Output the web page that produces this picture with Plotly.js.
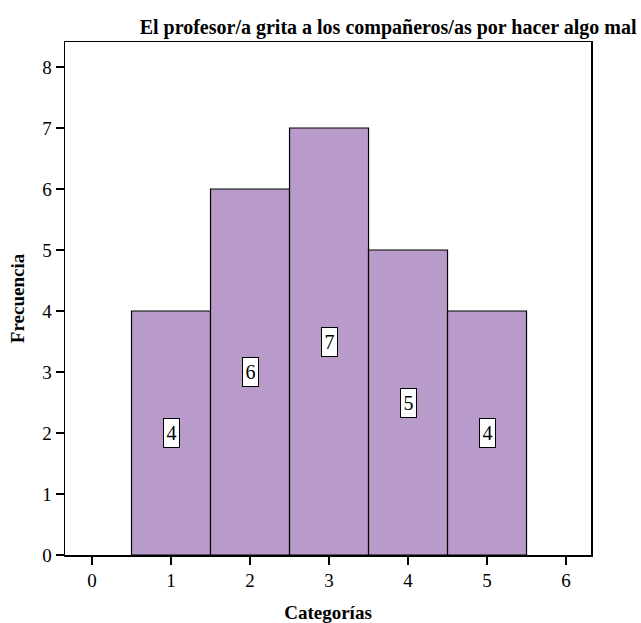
<!DOCTYPE html>
<html>
<head>
<meta charset="utf-8">
<script src="https://cdn.plot.ly/plotly-3.0.1.min.js"></script>
<style>
  html, body { margin: 0; padding: 0; background: #ffffff; }
  #chart { width: 641px; height: 623px; }
</style>
</head>
<body>
<div id="chart"></div>
<script>
// Frequency of each response category
const categories = [1, 2, 3, 4, 5];
const frequencies = [4, 6, 7, 5, 4];
const xTicks = [0, 1, 2, 3, 4, 5, 6];
const yTicks = [0, 1, 2, 3, 4, 5, 6, 7, 8];

const serif = '"Liberation Serif", "Times New Roman", serif';

const bars = {
  type: 'bar',
  x: categories,
  y: frequencies,
  width: 1,
  marker: { color: '#b89bca', line: { color: '#000000', width: 1.2 } },
  hoverinfo: 'skip'
};

// Boxed count labels placed at half the bar height
const labels = categories.map((c, i) => ({
  x: c,
  y: frequencies[i] / 2,
  xref: 'x',
  yref: 'y',
  text: String(frequencies[i]),
  showarrow: false,
  font: { family: serif, size: 20, color: '#000000' },
  bgcolor: '#ffffff',
  bordercolor: '#000000',
  borderwidth: 1,
  borderpad: 1,
  width: 13,
  height: 26
}));

const layout = {
  width: 641,
  height: 623,
  margin: { l: 65, r: 50, t: 42, b: 68 },
  paper_bgcolor: '#ffffff',
  plot_bgcolor: '#ffffff',
  showlegend: false,
  font: { family: serif, size: 18, color: '#000000' },
  title: {
    text: 'El profesor/a grita a los compañeros/as por hacer algo mal',
    font: { family: serif, size: 20, color: '#000000', weight: 'bold' },
    xref: 'container',
    x: 0.993,
    xanchor: 'right',
    yref: 'container',
    y: 0.957,
    yanchor: 'middle'
  },
  xaxis: {
    range: [-0.342, 6.316],
    tickmode: 'array',
    tickvals: xTicks,
    ticktext: xTicks.map(String),
    ticks: 'outside',
    ticklen: 8,
    tickwidth: 1.5,
    tickcolor: '#000000',
    showgrid: false,
    zeroline: false,
    showline: true,
    linecolor: '#000000',
    linewidth: 1.5,
    mirror: true,
    tickfont: { family: serif, size: 19, color: '#000000' },
    title: {
      text: 'Categorías',
      font: { family: serif, size: 19, color: '#000000', weight: 'bold' },
      standoff: 16
    },
    fixedrange: true
  },
  yaxis: {
    range: [0, 8.41],
    tickmode: 'array',
    tickvals: yTicks,
    ticktext: yTicks.map(String),
    ticks: 'outside',
    ticklen: 8,
    tickwidth: 1.5,
    tickcolor: '#000000',
    showgrid: false,
    zeroline: false,
    showline: true,
    linecolor: '#000000',
    linewidth: 1.5,
    mirror: true,
    tickfont: { family: serif, size: 19, color: '#000000' },
    title: {
      text: 'Frecuencia',
      font: { family: serif, size: 19, color: '#000000', weight: 'bold' },
      standoff: 12
    },
    fixedrange: true
  },
  annotations: labels,
  bargap: 0
};

Plotly.newPlot('chart', [bars], layout, { displayModeBar: false, staticPlot: true });
</script>
</body>
</html>
